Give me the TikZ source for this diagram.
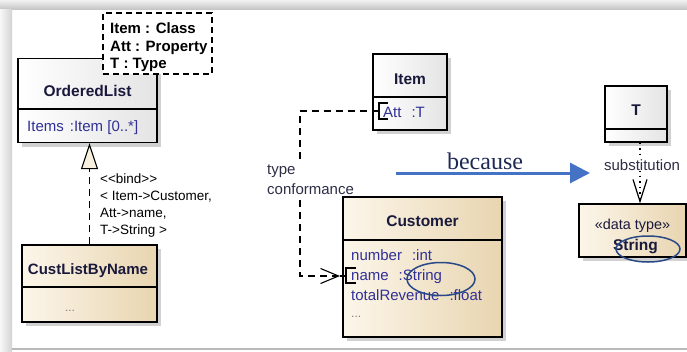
\documentclass[tikz,border=0pt]{standalone}
\usepackage{fontspec}
\setmainfont{Liberation Sans}
\newfontfamily\seriffont{Liberation Serif}
\usetikzlibrary{arrows.meta,shadows}
\definecolor{navy}{RGB}{25,25,60}
\definecolor{attr}{RGB}{48,48,150}
\definecolor{tanL}{RGB}{252,246,234}
\definecolor{tanR}{RGB}{232,213,176}
\definecolor{grayR}{RGB}{228,228,228}
\definecolor{ellc}{RGB}{40,72,135}
\definecolor{arrowc}{RGB}{68,114,196}
\definecolor{becc}{RGB}{30,40,85}
\definecolor{cream}{RGB}{248,240,222}
\definecolor{lblc}{RGB}{45,45,70}
\begin{document}
\begin{tikzpicture}[x=1pt,y=-1pt,
  classbox/.style={draw=black, line width=1.2pt, inner sep=0pt,
    drop shadow={shadow xshift=4pt, shadow yshift=-4pt, fill=black!45, opacity=0.4}},
  plainbox/.style={classbox, left color=white, right color=grayR},
  tanbox/.style={classbox, left color=tanL, right color=tanR},
  divider/.style={line width=1.2pt},
  cname/.style={font=\fontsize{15.5}{18}\selectfont\bfseries, text=navy, anchor=base, inner sep=0pt},
  attrtxt/.style={font=\fontsize{15}{18}\selectfont, text=attr, anchor=base west, inner sep=0pt},
  tpltxt/.style={font=\fontsize{15}{18}\selectfont\bfseries, text=black, anchor=base west, inner sep=0pt},
  bindtxt/.style={font=\fontsize{13.5}{16}\selectfont, text=black, anchor=base west, inner sep=0pt},
  dotstxt/.style={font=\fontsize{12}{14}\selectfont, text=gray, anchor=base, inner sep=0pt},
  lbltxt/.style={font=\fontsize{15}{20}\selectfont, text=lblc, fill=white, inner sep=1pt},
  circ/.style={draw=ellc, line width=1.5pt},
  port/.style={draw=black, line width=1.2pt}
]
\useasboundingbox (0,0) rectangle (687,351);
% frame
\shade[top color=gray!10, bottom color=gray!45] (0,0) rectangle (687,9);
\shade[left color=gray!6, right color=gray!35] (0,9) rectangle (12,351);
\draw[gray!55, line width=1.5pt] (12,349) -- (687,349);

% OrderedList
\node[plainbox, minimum width=139pt, minimum height=84pt] (ol) at (87.5,100.5) {};
\draw[divider] (ol.west |- 0,109) -- (ol.east |- 0,109);
\node[cname] (olname) at (87.5,96) {OrderedList};
\node[attrtxt] (olattr) at (27,131) {Items\hspace{6pt}:Item [0..*]};

% template parameters
\node[draw=black, dashed, dash pattern=on 6pt off 4pt, line width=1.2pt, fill=white,
      minimum width=109pt, minimum height=61pt, inner sep=0pt] (tpl) at (157.5,43.5) {};
\node[tpltxt] (tp1) at (110,33) {Item : Class};
\node[tpltxt] (tp2) at (110,51) {Att : Property};
\node[tpltxt] (tp3) at (110,68) {T : Type};

% CustListByName
\node[tanbox, minimum width=135pt, minimum height=77pt] (cl) at (89.5,283.5) {};
\draw[divider] (cl.west |- 0,287) -- (cl.east |- 0,287);
\node[cname, font=\fontsize{15}{18}\selectfont\bfseries] (clname) at (88,274) {CustListByName};
\node[dotstxt] (cldots) at (70,311) {...};

% bind (generalization)
\draw[line width=1.1pt, dash pattern=on 7pt off 5pt,
      -{Triangle[length=26pt, width=17pt, fill=cream]}] (cl.north) -- (cl.north |- ol.south);
\node[bindtxt] (b1) at (100,183) {<{}<bind>{}>};
\node[bindtxt] (b2) at (100,200) {< Item->Customer,};
\node[bindtxt] (b3) at (100,217) {Att->name,};
\node[bindtxt] (b4) at (100,234) {T->String >};

% Item
\node[plainbox, minimum width=74pt, minimum height=76pt] (item) at (410,92) {};
\draw[divider] (item.west |- 0,97) -- (item.east |- 0,97);
\node[cname] (itemname) at (410,84) {Item};
\node[attrtxt] (itemattr) at (383,117) {Att\hspace{10pt}:T};

% Customer
\node[tanbox, minimum width=159pt, minimum height=140pt] (cust) at (422.5,267) {};
\draw[divider] (cust.west |- 0,240) -- (cust.east |- 0,240);
\node[cname] (custname) at (422.5,226) {Customer};
\node[attrtxt] (ca1) at (351,260) {number\hspace{10pt}:int};
\node[attrtxt] (ca2) at (351,280) {name\hspace{10pt}:String};
\node[attrtxt] (ca3) at (351,300) {totalRevenue\hspace{10pt}:float};
\node[dotstxt, anchor=base west] (cadots) at (351,317) {...};

% T
\node[plainbox, minimum width=62pt, minimum height=56pt] (T) at (636,114) {};
\draw[divider] (T.west |- 0,129) -- (T.east |- 0,129);
\node[cname] (Tname) at (636,115) {T};

% String
\node[tanbox, minimum width=107pt, minimum height=53pt] (str) at (632.5,230.5) {};
\node[font=\fontsize{14.4}{16}\selectfont, text=navy, anchor=base, inner sep=0pt] (strst) at (632.5,229) {«data type»};
\node[cname] (strname) at (635.5,250) {String};

% substitution
\draw[line width=1.2pt, dash pattern=on 1.5pt off 4pt,
      -{Straight Barb[length=22pt, width=14pt]}] ([xshift=4pt]T.south) -- ([xshift=4pt]T.south |- str.north);
\node[lbltxt, anchor=base] (subst) at (642,170) {substitution};

% type conformance
\coordinate (p1) at (379,111);
\coordinate (bend) at (300,111);
\coordinate (tip) at (340,276);
\coordinate (p2) at (346,276);
\draw[line width=1.1pt, dash pattern=on 7pt off 5pt,
      -{Straight Barb[length=18pt, width=15pt]}] (p1) -- (bend) |- (tip);
\draw[line width=1.1pt] (tip) -- (p2);
\draw[port] (388,103) -- (379,103) -- (379,119) -- (388,119);
\draw[port] (356,268) -- (346,268) -- (346,283) -- (356,283);
\node[lbltxt, align=left, anchor=north west] (tc) at (266,164) {type\\conformance};

% because
\coordinate (bc1) at (396,173);
\coordinate (bc2) at (590,173);
\draw[arrowc, line width=3pt, -{Triangle[length=20pt, width=20pt]}] (bc1) -- (bc2);
\node[font=\seriffont\fontsize{24}{26}\selectfont, text=becc, anchor=base, inner sep=0pt] (because) at (485,169) {because};

% highlight ellipses
\draw[circ] (441,279) ellipse (34pt and 16.5pt);
\draw[circ] (648,249) ellipse (32pt and 13pt);
\end{tikzpicture}
\end{document}
